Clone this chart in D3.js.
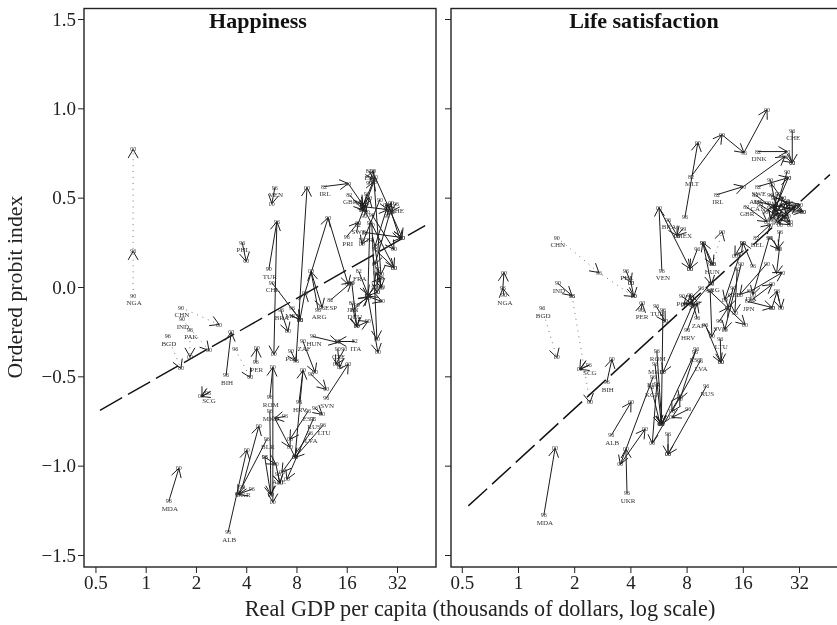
<!DOCTYPE html>
<html><head><meta charset="utf-8">
<script src="https://cdn.jsdelivr.net/npm/d3@7/dist/d3.min.js"></script>
<style>html,body{margin:0;padding:0;background:#fff;overflow:hidden}svg{display:block;filter:grayscale(1)}text{font-family:"Liberation Serif",serif}</style>
</head><body><svg id="c" width="837" height="625"></svg>
<script>
// Horizontal values are log2(GDP per capita, thousands of dollars); vertical values are the ordered probit index.
const xTickLog = [-1,0,1,2,3,4,5];
const xTickLabels = ["0.5","1","2","4","8","16","32"];
const yTicks = [-1.5,-1,-0.5,0,0.5,1,1.5];
const panelTitles = ["Happiness","Life satisfaction"];
const fitHappiness = [[-0.91,-0.69],[5.56,0.344]];
const fitSatisfaction = [[-0.884,-1.225],[5.55,0.629]];

// [country, wave labels, [x0,y0,x1,y1,...]]
const happinessDotted = [
 ["NGA","90 96 00",[-0.25,-0.05,-0.25,0.20,-0.25,0.77]],
 ["CHN","90 00",[0.70,-0.115,1.46,-0.21]],
 ["IND","90 00",[0.72,-0.18,1.26,-0.355]],
 ["PAK","96 00",[0.88,-0.238,0.88,-0.389]],
 ["BGD","96 00",[0.44,-0.277,0.70,-0.456]],
 ["","96 00",[1.78,-0.349,2.08,-0.506]]
];
const happinessSolid = [
 ["SCG","96 00",[1.24,-0.595,1.10,-0.612]],["","",[1.20,-0.573,1.12,-0.612]],
 ["BIH","96 00",[1.60,-0.495,1.70,-0.254]],["PER","96 00",[2.19,-0.422,2.21,-0.344]],
 ["PHL","96 00",[1.92,0.249,2.00,0.143]],["VEN","96 00",[2.57,0.556,2.51,0.467]],
 ["TUR","90 96 00",[2.45,0.098,2.61,0.366,2.55,-0.377]],["CHL","90 00",[2.51,0.025,3.07,-0.182]],
 ["BRA","96 00",[2.69,-0.131,2.83,-0.249]],["MEX","96 00",[2.91,-0.12,3.07,-0.182]],
 ["POL","90 96 00",[2.89,-0.36,2.99,-0.416,3.21,0.556]],["ARG","96 00 96",[3.43,-0.126,3.29,0.087,3.51,-0.115]],
 ["","96 00 90 00",[3.07,-0.182,3.17,-0.031,3.63,0.388,4.03,0.014]],["ESP","82 90",[3.67,-0.075,4.09,0.025]],
 ["IRL","82 90 00",[3.55,0.562,4.03,0.579,4.32,0.461]],["GBR","82 00",[4.05,0.517,4.32,0.433]],
 ["ISL","82 90 96 00",[4.44,0.651,4.54,0.601,4.32,0.45,4.94,0.109]],["PRI","96 00",[4.00,0.282,4.23,0.361]],
 ["SWE","82 00",[4.22,0.349,4.54,0.59]],["NOR","82 00",[4.36,0.305,5.10,0.277]],
 ["","90 00",[4.56,0.618,5.10,0.277]],["","90 00",[4.54,0.601,4.68,0.07]],
 ["","82 90 00",[4.82,0.461,4.56,0.226,4.68,-0.003]],["","90 00",[4.86,0.416,4.56,0.126]],
 ["","90 96 00",[4.46,0.361,4.42,-0.053,4.62,-0.366]],["","90 00",[4.50,0.349,4.60,-0.293]],
 ["FRA","82 90",[4.24,0.087,4.42,-0.042]],["JPN","82 90 00",[4.10,-0.087,4.20,-0.221,4.42,-0.193]],
 ["","90 00",[4.10,0.025,4.20,-0.221]],["DEU","82 90 00",[4.14,-0.126,4.42,-0.053,4.70,-0.081]],
 ["CHE","96 00",[4.98,0.467,4.88,0.422,5.06,0.266]],["","90 00",[4.32,0.45,4.82,0.433]],
 ["","90 00",[4.50,0.405,4.94,0.21]],["","90 00",[4.66,0.489,4.30,0.238]],
 ["","96 00",[4.56,0.21,4.94,0.109]],["ITA","82 00",[4.16,-0.305,3.82,-0.305]],
 ["HUN","90 00",[3.33,-0.277,3.82,-0.31]],["ZAF","90 00",[3.13,-0.305,3.37,-0.478]],
 ["CZE","90 00",[3.82,-0.349,3.86,-0.45]],["","90 00",[3.95,-0.349,3.78,-0.433]],
 ["SVN","96 00",[3.59,-0.623,4.03,-0.433]],["","90 00",[3.29,-0.489,3.59,-0.573]],
 ["ROM","96 00 00",[2.47,-0.618,2.53,-0.45,2.53,-1.205]],["MKD","96 00",[2.47,-0.696,2.49,-1.16]],
 ["","96 00 00",[2.77,-0.724,2.57,-0.735,2.87,-0.897]],["HRV","96 00 00",[3.05,-0.646,3.13,-0.467,2.97,-0.954]],
 ["LTU","96 00",[3.53,-0.774,2.97,-0.954]],["LVA","96 00",[3.27,-0.819,2.71,-1.038]],
 ["EST","96 00",[3.23,-0.696,2.87,-0.853]],["RUS","96 00",[3.33,-0.741,2.81,-1.076]],
 ["","96 00",[3.37,-0.679,3.51,-0.713]],["BLR","96 00",[2.41,-0.853,1.84,-1.16]],
 ["ALB","96 00",[1.64,-1.372,2.01,-0.914]],["UKR","96 00",[1.92,-1.121,2.25,-0.78]],
 ["","96 00",[2.11,-1.132,1.84,-1.16]],["MDA","96 00",[0.46,-1.199,0.66,-1.015]],
 ["AZE","96 00",[2.63,-1.048,2.67,-1.098]],["","96 00",[2.37,-0.953,2.49,-1.165]],
 ["","96 00",[2.37,-0.953,2.59,-0.992,2.67,-1.098]],
 ["","90 00",[4.25,0.47,4.40,0.42]],["","90 00",[4.40,0.52,4.30,0.43]],["","90 00",[4.35,0.40,4.45,0.50]],
 ["","90 00",[4.80,0.40,4.88,0.47]],["","90 00",[4.90,0.42,4.78,0.46]],["","90 00",[4.45,0.58,4.52,0.65]],
 ["","90 00",[4.55,0.0,4.68,0.05]],["","90 00",[4.62,0.10,4.60,-0.03]],["","90 00",[4.70,0.0,4.58,0.08]],
 ["","90 00",[4.20,-0.10,4.42,-0.06]],["","90 00",[4.60,-0.03,4.42,-0.05]]
];
const satisfactionDotted = [
 ["CHN","90 96 00",[0.69,0.277,1.44,0.081,2.06,-0.053]],
 ["","96 00",[0.96,-0.048,1.28,-0.646]],
 ["BGD","96 00",[0.43,-0.12,0.69,-0.394]],
 ["","96 00",[3.47,0.126,3.63,0.31]]
];
const satisfactionSolid = [
 ["NGA","90 96 00",[-0.25,-0.047,-0.27,-0.008,-0.25,0.081]],["IND","90 96",[0.71,0.02,0.96,-0.048]],
 ["SCG","96 00",[1.26,-0.439,1.10,-0.461]],["","",[1.21,-0.411,1.10,-0.461]],
 ["BIH","96 00",[1.58,-0.534,1.67,-0.405]],["ALB","96 00",[1.66,-0.83,2.01,-0.646]],
 ["MDA","96 00",[0.46,-1.277,0.66,-0.903]],["UKR","96 00",[1.94,-1.154,1.92,-0.908]],
 ["BLR","96 00 00",[2.40,-0.506,1.82,-0.993,2.26,-0.797]],["RUS","96 00",[3.35,-0.556,2.67,-0.936]],
 ["","96 00",[2.67,-0.825,2.67,-0.936]],["","96 00 00",[2.47,-0.545,2.39,-0.875,2.88,-0.612]],
 ["KGZ","96 00",[2.37,-0.561,2.53,-0.769]],["ROM","96 00",[2.47,-0.36,2.56,-0.769]],
 ["MKD","96 00",[2.44,-0.433,2.55,-0.769]],["TUR","96 00",[2.46,-0.109,2.62,-0.193]],
 ["","96 00",[2.58,-0.126,2.55,-0.769]],["PER","96 00",[2.19,-0.126,2.21,-0.092]],
 ["EST","96 00",[3.15,-0.366,2.55,-0.769]],["LVA","96 00",[3.24,-0.416,2.74,-0.696]],
 ["","96 00",[3.17,-0.349,2.88,-0.629]],["","96 00",[3.03,-0.685,2.74,-0.73]],
 ["POL","90 96 00",[2.92,-0.053,3.11,-0.098,2.58,-0.478]],["HRV","96 00",[3.01,-0.243,3.19,-0.092]],
 ["ZAF","96 00",[3.19,-0.176,3.06,-0.042]],["ARG","90 00",[3.44,0.025,3.10,-0.103]],
 ["","96 00",[3.26,-0.008,2.95,-0.098]],["","90 00",[3.42,-0.025,4.04,-0.21]],
 ["","90 00",[3.42,-0.025,3.45,-0.277]],["SVN","96 00",[3.58,-0.193,3.74,-0.115]],
 ["LTU","96 00",[3.60,-0.293,3.61,-0.422]],["","96 00",[3.33,-0.21,3.61,-0.422]],
 ["CZE","90 00",[3.83,-0.003,3.74,-0.115]],["","90 00",[3.90,0.098,3.86,-0.143]],
 ["","90 00",[3.97,0.126,3.68,-0.238]],["JPN","82 00",[4.09,-0.081,4.52,-0.115]],
 ["ITA","82 00",[4.13,-0.025,4.70,0.081]],["","82 00",[4.17,-0.07,4.52,0.014]],
 ["","90 96 00",[4.52,-0.115,4.61,-0.025,4.68,-0.12]],
 ["MLT","82 90 96 00",[3.08,0.618,3.63,0.852,4.02,0.752,4.43,0.992]],["","96 00",[2.97,0.389,3.20,0.808]],
 ["CHE","96 00",[4.88,0.875,4.88,0.696]],["DNK","82 00",[4.27,0.758,4.79,0.758]],
 ["IRL","82 90 96 00",[3.54,0.517,4.01,0.562,4.75,0.73,4.88,0.696]],["GBR","82 00",[4.06,0.45,4.43,0.366]],
 ["BEL","82 00",[4.24,0.277,4.49,0.349]],["","96 00",[4.49,0.277,4.65,0.21,4.60,0.075]],
 ["","96 00",[4.66,0.31,4.62,0.21]],["","90 00",[4.31,0.461,4.84,0.349]],
 ["","90 00",[4.49,0.517,5.07,0.422]],["","90 00",[4.57,0.422,5.02,0.461]],
 ["","90 00",[4.79,0.646,4.57,0.422]],["","90 00",[4.81,0.612,4.49,0.377]],
 ["","90 00",[4.52,0.573,4.84,0.433]],["SWE","82 00",[4.27,0.562,4.81,0.612]],
 ["AUS","82 00",[4.22,0.517,4.84,0.366]],["CAN","82 00",[4.25,0.478,5.07,0.422]],
 ["","90 00",[4.49,0.601,4.66,0.349]],["VEN","96 00 00",[2.56,0.092,2.51,0.444,3.06,0.103]],
 ["BRA","96 00",[2.67,0.377,2.83,0.288]],["MEX","99 00",[2.94,0.327,2.83,0.288]],
 ["PHL","96 00",[1.92,0.092,2.01,0.025]],["","00 00",[2.01,0.025,2.06,-0.053]],
 ["","96 00",[3.19,0.21,3.06,0.103]],["","90 00",[3.29,0.249,3.47,0.126]],
 ["HUN","90 96 00",[3.44,0.126,3.29,0.249,3.44,0.014]],["","90 00",[4.00,0.249,3.86,0.176]],
 ["","96 00",[4.18,0.115,4.00,0.249]],["","90 00",[3.95,0.182,3.68,-0.07]],
 ["","90 00",[4.43,0.131,3.95,-0.042]],["","90 00",[4.47,0.277,4.18,-0.042]],
 ["","90 00",[4.45,0.47,4.80,0.40]],["","90 00",[4.55,0.50,4.75,0.38]],["","90 00",[4.60,0.38,4.95,0.46]],
 ["","90 00",[4.40,0.42,4.72,0.50]],["","90 00",[4.62,0.52,4.50,0.38]],["","90 00",[4.70,0.46,4.55,0.40]],
 ["","90 00",[4.48,0.44,4.85,0.47]],["","90 00",[4.58,0.36,4.78,0.48]]
];

const svg = d3.select("#c");
const frameTop = 8.5, frameBottom = 567, ink = "#222";
const y = d3.scaleLinear().domain([-1.5,1.5]).range([555,19]);
const panels = [
 {left:84,right:436,x:d3.scaleLinear().domain([0,5]).range([145.7,397]),
  solid:happinessSolid,dotted:happinessDotted,fit:fitHappiness,title:panelTitles[0],tx:258,showY:true},
 {left:451,right:845,x:d3.scaleLinear().domain([0,5]).range([518,799]),
  solid:satisfactionSolid,dotted:satisfactionDotted,fit:fitSatisfaction,title:panelTitles[1],tx:644,showY:false}
];
const toPts = f => d3.pairs(f).filter((_,i)=>i%2===0);

panels.forEach(p=>{
  const g = svg.append("g");
  const line = d3.line().x(d=>p.x(d[0])).y(d=>y(d[1]));
  // frame
  g.append("rect").attr("x",p.left).attr("y",frameTop).attr("width",p.right-p.left).attr("height",frameBottom-frameTop)
    .attr("fill","none").attr("stroke",ink).attr("stroke-width",1.4);
  // x axis
  const ax = d3.axisBottom(p.x).tickValues(xTickLog).tickSize(6).tickPadding(3)
    .tickFormat((d,i)=>xTickLabels[i]);
  const gx = g.append("g").attr("transform",`translate(0,${frameBottom})`).call(ax);
  gx.select(".domain").remove();
  gx.selectAll("line").attr("stroke",ink).attr("stroke-width",1);
  gx.selectAll("text").attr("font-size",19).attr("fill",ink).attr("font-family","Liberation Serif");
  // y axis
  const ay = d3.axisLeft(y).tickValues(yTicks).tickSize(6).tickPadding(2)
    .tickFormat(d=>p.showY? d3.format(".1f")(d).replace("-","\u2212"):"");
  const gy = g.append("g").attr("transform",`translate(${p.left},0)`).call(ay);
  gy.select(".domain").remove();
  gy.selectAll("line").attr("stroke",ink).attr("stroke-width",1);
  gy.selectAll("text").attr("font-size",19).attr("fill",ink).attr("font-family","Liberation Serif");
  // title
  g.append("text").attr("x",p.tx).attr("y",28).attr("text-anchor","middle")
    .attr("font-size",22).attr("font-weight","bold").attr("fill","#111").text(p.title);
  // fitted line
  g.append("path").attr("d",line(p.fit)).attr("fill","none").attr("stroke","#111")
    .attr("stroke-width",1.4).attr("stroke-dasharray","25.5,6.7");
  // arrows
  const drawChain = (chain,dotted)=>{
    const [code,years,flat] = chain, pts = toPts(flat), labs = years?years.split(" "):[];
    g.append("path").attr("d",line(pts)).attr("fill","none").attr("stroke",dotted?"#555":"#1c1c1c")
      .attr("stroke-width",dotted?0.9:1).attr("stroke-dasharray",dotted?"0.9,5":null);
    d3.pairs(pts).forEach(([a,b])=>{
      const x1=p.x(a[0]),y1=y(a[1]),x2=p.x(b[0]),y2=y(b[1]);
      const th=Math.atan2(y2-y1,x2-x1),L=10,w=Math.PI/6;
      const h=t=>[x2-L*Math.cos(th+t),y2-L*Math.sin(th+t)];
      g.append("path").attr("d",d3.line()([h(w),[x2,y2],h(-w)])).attr("fill","none")
        .attr("stroke","#1c1c1c").attr("stroke-width",1);
    });
    pts.forEach((q,i)=>{ if(labs[i]) g.append("text").attr("x",p.x(q[0])).attr("y",y(q[1])+2)
      .attr("text-anchor","middle").attr("font-size",6).attr("fill","#333").text(labs[i]); });
    if(code) g.append("text").attr("x",p.x(pts[0][0])+1).attr("y",y(pts[0][1])+9.5)
      .attr("text-anchor","middle").attr("font-size",7).attr("fill","#333").text(code);
  };
  p.dotted.forEach(c=>drawChain(c,true));
  p.solid.forEach(c=>drawChain(c,false));
});

svg.append("text").attr("transform","translate(22,287) rotate(-90)").attr("text-anchor","middle")
  .attr("font-size",21.8).attr("fill",ink).text("Ordered probit index");
svg.append("text").attr("x",480).attr("y",616).attr("text-anchor","middle")
  .attr("font-size",22.2).attr("fill",ink).text("Real GDP per capita (thousands of dollars, log scale)");
</script></body></html>
